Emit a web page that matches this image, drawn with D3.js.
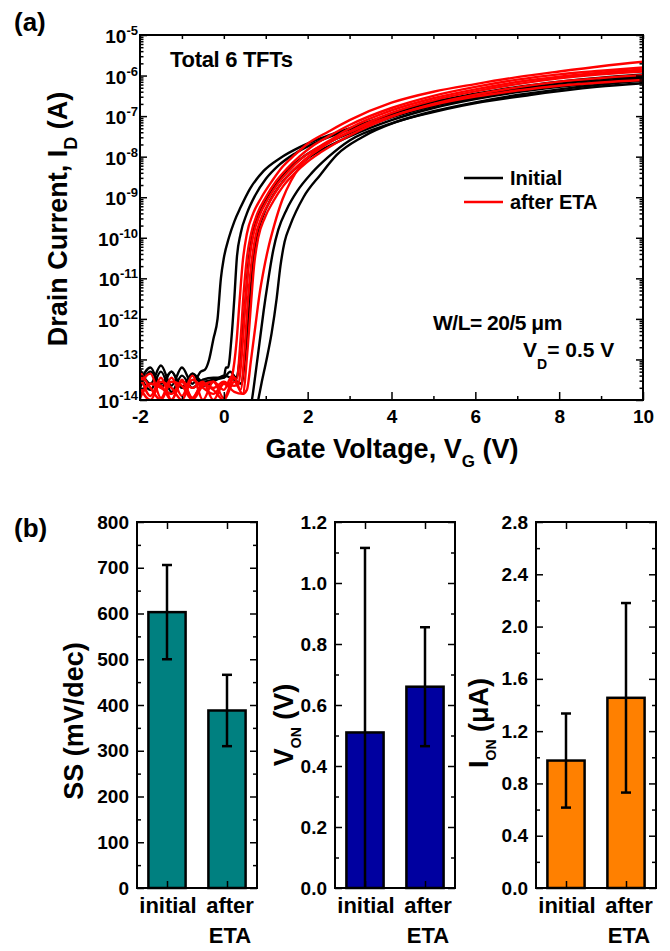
<!DOCTYPE html>
<html>
<head>
<meta charset="utf-8">
<script src="https://cdn.jsdelivr.net/npm/d3@7"></script>
<style>
body { margin: 0; background: #fff; }
text { font-family: "Liberation Sans", Arial, sans-serif; font-weight: bold; fill: #000; }
</style>
</head>
<body>
<svg id="fig" width="670" height="951"></svg>
<script>
// transfer curves: [gate voltage (V), log10 of drain current (A)]
var initialCurves = [
  [[-2,-13.25],[-1.75,-13.6],[-1.5,-13.15],[-1.25,-13.65],[-1,-13.2],[-0.75,-13.6],[-0.55,-13.3],[-0.45,-13.25],[-0.35,-13.0],[-0.25,-12.5],[-0.15,-12.0],[-0.07,-11.0],[0,-10.5],[0.12,-10.0],[0.25,-9.6],[0.4,-9.25],[0.63,-8.78],[0.95,-8.35],[1.35,-8.03],[1.8,-7.77],[2.3,-7.55],[3,-7.3],[4,-6.95],[5,-6.65],[6,-6.45],[7,-6.28],[8,-6.15],[9,-6.05],[10,-5.97]],
  [[-2,-13.55],[-1.75,-13.2],[-1.5,-13.7],[-1.25,-13.3],[-1,-13.7],[-0.75,-13.35],[-0.5,-13.55],[-0.25,-13.5],[0,-13.45],[0.05,-13.2],[0.1,-13.2],[0.18,-12.5],[0.25,-11.5],[0.31,-10.5],[0.4,-9.9],[0.55,-9.4],[0.75,-8.95],[1,-8.55],[1.3,-8.22],[1.7,-7.92],[2.2,-7.65],[3,-7.33],[4,-6.98],[5,-6.7],[6,-6.5],[7,-6.33],[8,-6.2],[9,-6.1],[10,-6.02]],
  [[-2,-13.4],[-1.75,-13.75],[-1.5,-13.3],[-1.25,-13.8],[-1,-13.4],[-0.75,-13.7],[-0.5,-13.5],[-0.25,-13.45],[0,-13.45],[0.15,-13.3],[0.3,-13.45],[0.38,-13.0],[0.45,-12.3],[0.52,-11.5],[0.58,-10.7],[0.66,-10.05],[0.8,-9.5],[1,-9.05],[1.25,-8.65],[1.55,-8.3],[1.9,-8.0],[2.3,-7.75],[3,-7.42],[4,-7.03],[5,-6.75],[6,-6.55],[7,-6.38],[8,-6.25],[9,-6.14],[10,-6.05]],
  [[-2,-13.7],[-1.75,-13.3],[-1.5,-13.6],[-1.25,-13.3],[-1,-13.7],[-0.75,-13.35],[-0.5,-13.65],[-0.25,-13.55],[0,-13.4],[0.25,-13.5],[0.42,-13.6],[0.5,-13.0],[0.57,-12.2],[0.63,-11.4],[0.69,-10.7],[0.77,-10.05],[0.92,-9.5],[1.12,-9.05],[1.38,-8.65],[1.7,-8.3],[2.05,-8.0],[2.45,-7.77],[3,-7.5],[4,-7.1],[5,-6.8],[6,-6.58],[7,-6.41],[8,-6.28],[9,-6.17],[10,-6.09]],
  [[0.6,-14.4],[0.67,-14.0],[0.75,-13.4],[0.85,-12.6],[0.95,-11.8],[1.05,-11.1],[1.18,-10.3],[1.3,-9.8],[1.5,-9.3],[1.75,-8.85],[2.1,-8.4],[2.5,-8.0],[3,-7.6],[4,-7.18],[5,-6.88],[6,-6.66],[7,-6.48],[8,-6.34],[9,-6.22],[10,-6.13]],
  [[0.75,-14.4],[0.82,-14.0],[0.9,-13.58],[1.02,-13.0],[1.14,-12.35],[1.26,-11.5],[1.35,-10.7],[1.45,-10.1],[1.58,-9.7],[1.9,-9.0],[2.3,-8.45],[2.7,-7.95],[3.3,-7.52],[4.1,-7.15],[5,-6.9],[5.7,-6.74],[7.3,-6.48],[8.9,-6.28],[10,-6.19]]
];
var etaCurves = [
  [[-2,-13.35],[-1.75,-13.9],[-1.5,-13.45],[-1.25,-14.0],[-1,-13.5],[-0.75,-13.95],[-0.5,-13.6],[-0.25,-13.7],[0,-13.55],[0.12,-13.6],[0.2,-13.4],[0.3,-12.6],[0.38,-11.5],[0.45,-10.6],[0.55,-9.9],[0.7,-9.4],[0.9,-9.0],[1.15,-8.6],[1.4,-8.25],[1.7,-7.95],[2,-7.68],[2.5,-7.38],[3,-7.1],[4,-6.67],[5,-6.4],[6,-6.21],[7,-6.04],[8,-5.9],[9,-5.77],[10,-5.66]],
  [[-2,-13.6],[-1.75,-13.35],[-1.5,-13.95],[-1.25,-13.45],[-1,-13.9],[-0.75,-13.4],[-0.5,-14.0],[-0.25,-13.55],[0,-13.75],[0.2,-13.4],[0.3,-13.5],[0.4,-12.5],[0.47,-11.4],[0.55,-10.5],[0.65,-9.9],[0.8,-9.4],[1,-9.0],[1.25,-8.6],[1.5,-8.3],[1.8,-8.0],[2.1,-7.75],[2.5,-7.5],[3,-7.22],[4,-6.8],[5,-6.5],[6,-6.28],[7,-6.1],[8,-5.97],[9,-5.88],[10,-5.8]],
  [[-2,-13.85],[-1.75,-13.6],[-1.5,-13.65],[-1.25,-14.0],[-1,-13.55],[-0.75,-13.7],[-0.5,-13.55],[-0.25,-14.0],[0,-13.6],[0.25,-13.65],[0.35,-13.6],[0.45,-12.6],[0.52,-11.5],[0.6,-10.6],[0.7,-9.95],[0.85,-9.45],[1.05,-9.05],[1.3,-8.65],[1.55,-8.35],[1.85,-8.05],[2.2,-7.8],[2.6,-7.55],[3,-7.3],[4,-6.86],[5,-6.56],[6,-6.34],[7,-6.16],[8,-6.03],[9,-5.93],[10,-5.85]],
  [[-2,-13.3],[-1.75,-13.7],[-1.5,-14.0],[-1.25,-13.55],[-1,-13.65],[-0.75,-14.0],[-0.5,-13.65],[-0.25,-13.55],[0,-13.95],[0.25,-13.45],[0.4,-13.75],[0.5,-12.7],[0.57,-11.6],[0.65,-10.7],[0.75,-10.0],[0.9,-9.5],[1.1,-9.1],[1.35,-8.7],[1.6,-8.4],[1.9,-8.1],[2.2,-7.87],[2.6,-7.6],[3,-7.38],[4,-6.92],[5,-6.61],[6,-6.39],[7,-6.21],[8,-6.07],[9,-5.97],[10,-5.9]],
  [[-2,-13.7],[-1.75,-14.0],[-1.5,-13.55],[-1.25,-13.7],[-1,-14.0],[-0.75,-13.5],[-0.5,-13.7],[-0.25,-13.85],[0,-13.6],[0.25,-13.8],[0.45,-13.85],[0.57,-12.7],[0.65,-11.6],[0.72,-10.7],[0.82,-10.0],[0.98,-9.5],[1.18,-9.1],[1.42,-8.72],[1.7,-8.4],[2,-8.12],[2.3,-7.9],[2.7,-7.65],[3,-7.48],[4,-7.02],[5,-6.7],[6,-6.47],[7,-6.29],[8,-6.15],[9,-6.06],[10,-5.99]],
  [[-2,-13.95],[-1.75,-13.6],[-1.5,-13.7],[-1.25,-13.85],[-1,-13.55],[-0.75,-13.95],[-0.5,-13.6],[-0.25,-13.75],[0,-14.0],[0.25,-13.55],[0.45,-13.85],[0.55,-13.75],[0.65,-13.0],[0.75,-12.2],[0.85,-11.4],[0.95,-10.8],[1.05,-10.3],[1.2,-9.7],[1.4,-9.05],[1.6,-8.6],[1.85,-8.2],[2.2,-7.85],[2.6,-7.6],[3,-7.4],[4,-7.0],[5,-6.72],[6,-6.52],[7,-6.37],[8,-6.25],[9,-6.17],[10,-6.11]]
];
var legendLabels = ["Initial", "after ETA"];
var vgTicks = [-2, 0, 2, 4, 6, 8, 10];
var decadeExps = [-14, -13, -12, -11, -10, -9, -8, -7, -6, -5];

// bar charts
var groups = ["initial", "after ETA"];
var ssMean = [603, 388], ssErr = [103, 78];
var vonMean = [0.51, 0.66], vonErr = [0.605, 0.195];
var ionMean = [0.975, 1.455], ionErr = [0.36, 0.725];
var ssTicks = [0, 100, 200, 300, 400, 500, 600, 700, 800];
var vonTicks = [0, 0.2, 0.4, 0.6, 0.8, 1.0, 1.2];
var ionTicks = [0, 0.4, 0.8, 1.2, 1.6, 2.0, 2.4, 2.8];

var svg = d3.select("#fig");

function styleAxis(g) {
  g.select(".domain").remove();
  g.selectAll(".tick line").attr("stroke", "#000").attr("stroke-width", 1.5);
  g.selectAll(".tick text").attr("font-family", null).attr("font-size", 19).attr("fill", "#000");
}

// ---------------- (a) ----------------
var x = d3.scaleLinear().domain([-2, 10]).range([140, 643]);
var y = d3.scaleLog().domain([1e-14, 1e-5]).range([400, 35]);

var decades = decadeExps.map(function(e) { return Math.pow(10, e); });
var minors = [];
decadeExps.slice(0, -1).forEach(function(e) {
  for (var k = 2; k < 10; k++) minors.push(k * Math.pow(10, e));
});
var vgMinor = d3.range(-1, 10, 2);

svg.append("clipPath").attr("id", "clipA").append("rect")
  .attr("x", 140).attr("y", 35).attr("width", 503).attr("height", 365);

var line = d3.line()
  .x(function(d) { return x(d[0]); })
  .y(function(d) { return y(Math.pow(10, d[1])); })
  .curve(d3.curveMonotoneX);

var curves = svg.append("g").attr("clip-path", "url(#clipA)");
curves.selectAll(".ini").data(initialCurves).enter().append("path")
  .attr("d", line).attr("fill", "none").attr("stroke", "#000").attr("stroke-width", 2.4);
curves.selectAll(".eta").data(etaCurves).enter().append("path")
  .attr("d", line).attr("fill", "none").attr("stroke", "#ff0000").attr("stroke-width", 2.4);

// axes, ticks pointing inward
svg.append("g").attr("transform", "translate(140,0)")
  .call(d3.axisLeft(y).tickValues(decades).tickSize(-7).tickFormat("")).call(styleAxis);
svg.append("g").attr("transform", "translate(140,0)")
  .call(d3.axisLeft(y).tickValues(minors).tickSize(-3.5).tickFormat("")).call(styleAxis);
svg.append("g").attr("transform", "translate(643,0)")
  .call(d3.axisRight(y).tickValues(decades).tickSize(-7).tickFormat("")).call(styleAxis);
svg.append("g").attr("transform", "translate(643,0)")
  .call(d3.axisRight(y).tickValues(minors).tickSize(-3.5).tickFormat("")).call(styleAxis);
svg.append("g").attr("transform", "translate(0,400)")
  .call(d3.axisBottom(x).tickValues(vgTicks).tickSize(-8).tickPadding(10).tickFormat(function(d) { return String(d); }))
  .call(styleAxis);
svg.append("g").attr("transform", "translate(0,400)")
  .call(d3.axisBottom(x).tickValues(vgMinor).tickSize(-4).tickFormat("")).call(styleAxis);
svg.append("g").attr("transform", "translate(0,35)")
  .call(d3.axisTop(x).tickValues(vgTicks.concat(vgMinor)).tickSize(-4).tickFormat("")).call(styleAxis);

svg.append("rect").attr("x", 140).attr("y", 35).attr("width", 503).attr("height", 365)
  .attr("fill", "none").attr("stroke", "#000").attr("stroke-width", 2);

// log labels 10^n
var yl = svg.append("g").selectAll("text").data(decadeExps).enter().append("text")
  .attr("x", 138).attr("y", function(e) { return y(Math.pow(10, e)) + 8; })
  .attr("text-anchor", "end").attr("font-size", 19);
yl.append("tspan").text("10");
yl.append("tspan").attr("font-size", 13).attr("dy", -8).text(function(e) { return String(e); });

svg.append("text").attr("x", 14).attr("y", 31).attr("font-size", 26).text("(a)");

var yt = svg.append("text").attr("transform", "translate(67,219) rotate(-90)")
  .attr("text-anchor", "middle").attr("font-size", 27);
yt.append("tspan").text("Drain Current, I");
yt.append("tspan").attr("font-size", 18).attr("dy", 10).text("D");
yt.append("tspan").attr("dy", -10).text(" (A)");

var xt = svg.append("text").attr("x", 392).attr("y", 458)
  .attr("text-anchor", "middle").attr("font-size", 27);
xt.append("tspan").text("Gate Voltage, V");
xt.append("tspan").attr("font-size", 17).attr("dy", 9).text("G");
xt.append("tspan").attr("dy", -9).text(" (V)");

svg.append("text").attr("x", 170).attr("y", 67).attr("font-size", 22)
  .attr("letter-spacing", -0.3).text("Total 6 TFTs");

svg.append("text").attr("x", 433).attr("y", 330).attr("font-size", 21)
  .attr("letter-spacing", -0.5).text("W/L= 20/5 \u03bcm");
var vd = svg.append("text").attr("x", 523).attr("y", 357).attr("font-size", 21);
vd.append("tspan").text("V");
vd.append("tspan").attr("font-size", 14).attr("dy", 12).text("D");
vd.append("tspan").attr("dy", -12).text("= 0.5 V");

var leg = svg.append("g").selectAll("g").data(legendLabels).enter().append("g")
  .attr("transform", function(d, i) { return "translate(0," + (178 + i * 24) + ")"; });
leg.append("line").attr("x1", 464).attr("x2", 503)
  .attr("stroke", function(d, i) { return i ? "#ff0000" : "#000"; }).attr("stroke-width", 2.5);
leg.append("text").attr("x", 510).attr("y", 7).attr("font-size", 20).text(function(d) { return d; });

// ---------------- (b) ----------------
svg.append("text").attr("x", 14).attr("y", 537).attr("font-size", 26).text("(b)");

var yTop = 522, yBot = 888;

function panel(x0, x1, mean, err, ticks, fill, fmt, title) {
  var xb = d3.scaleBand().domain(groups).range([x0, x1]).paddingInner(0.38).paddingOuter(0.19);
  var ymax = ticks[ticks.length - 1];
  var yb = d3.scaleLinear().domain([0, ymax]).range([yBot, yTop]);
  var step = ticks[1] - ticks[0];
  var minor = d3.range(ticks.length - 1).map(function(i) { return ticks[i] + step / 2; });
  var xc = function(d) { return xb(d) + xb.bandwidth() / 2; };
  var g = svg.append("g");

  g.selectAll(".bar").data(groups).enter().append("rect")
    .attr("x", function(d) { return xb(d); })
    .attr("y", function(d, i) { return yb(mean[i]); })
    .attr("width", xb.bandwidth())
    .attr("height", function(d, i) { return yBot - yb(mean[i]); })
    .attr("fill", fill).attr("stroke", "#000").attr("stroke-width", 2.5);

  // error bars (lower end clipped at zero)
  groups.forEach(function(d, i) {
    var hi = mean[i] + err[i], lo = mean[i] - err[i];
    g.append("line").attr("x1", xc(d)).attr("x2", xc(d))
      .attr("y1", yb(Math.max(0, lo))).attr("y2", yb(hi))
      .attr("stroke", "#000").attr("stroke-width", 2.5);
    g.append("line").attr("x1", xc(d) - 5).attr("x2", xc(d) + 5)
      .attr("y1", yb(hi)).attr("y2", yb(hi)).attr("stroke", "#000").attr("stroke-width", 2.5);
    if (lo > 0) {
      g.append("line").attr("x1", xc(d) - 5).attr("x2", xc(d) + 5)
        .attr("y1", yb(lo)).attr("y2", yb(lo)).attr("stroke", "#000").attr("stroke-width", 2.5);
    }
  });

  g.append("g").attr("transform", "translate(" + x0 + ",0)")
    .call(d3.axisLeft(yb).tickValues(ticks).tickSize(-7).tickPadding(8).tickFormat(fmt)).call(styleAxis);
  g.append("g").attr("transform", "translate(" + x0 + ",0)")
    .call(d3.axisLeft(yb).tickValues(minor).tickSize(-4).tickFormat("")).call(styleAxis);
  g.append("g").attr("transform", "translate(" + x1 + ",0)")
    .call(d3.axisRight(yb).tickValues(ticks).tickSize(-7).tickFormat("")).call(styleAxis);
  g.append("g").attr("transform", "translate(" + x1 + ",0)")
    .call(d3.axisRight(yb).tickValues(minor).tickSize(-4).tickFormat("")).call(styleAxis);

  var xTicks = d3.scaleOrdinal().domain(groups).range(groups.map(xc));
  g.append("g").attr("transform", "translate(0," + yBot + ")")
    .call(d3.axisBottom(xTicks).tickSize(-7).tickFormat("")).call(styleAxis);
  g.append("g").attr("transform", "translate(0," + yTop + ")")
    .call(d3.axisTop(xTicks).tickSize(-7).tickFormat("")).call(styleAxis);

  g.append("rect").attr("x", x0).attr("y", yTop).attr("width", x1 - x0).attr("height", yBot - yTop)
    .attr("fill", "none").attr("stroke", "#000").attr("stroke-width", 2);

  // category labels, second word on its own line
  g.selectAll(".cat").data(groups).enter().append("text")
    .attr("text-anchor", "middle").attr("font-size", 22)
    .each(function(d) {
      var words = d.split(" ");
      var t = d3.select(this);
      words.forEach(function(w, k) {
        t.append("tspan").attr("x", xc(d) + (words.length > 1 ? 3 : 1)).attr("y", 913 + k * 30).text(w);
      });
    });

  var tt = g.append("text").attr("transform", "translate(" + title.x + "," + title.y + ") rotate(-90)")
    .attr("text-anchor", "middle").attr("font-size", 27);
  tt.append("tspan").text(title.main);
  if (title.sub) {
    tt.append("tspan").attr("font-size", 14).attr("dy", 8).text(title.sub);
    tt.append("tspan").attr("dy", -8).text(title.rest);
  }
}

panel(137, 257, ssMean, ssErr, ssTicks, "#008080", d3.format("d"),
  { x: 83, y: 721, main: "SS (mV/dec)" });
panel(335, 455, vonMean, vonErr, vonTicks, "#0000a0", d3.format(".1f"),
  { x: 293, y: 725, main: "V", sub: "ON", rest: " (V)" });
panel(536, 656, ionMean, ionErr, ionTicks, "#ff8000", d3.format(".1f"),
  { x: 488, y: 723, main: "I", sub: "ON", rest: " (\u03bcA)" });
</script>
</body>
</html>
